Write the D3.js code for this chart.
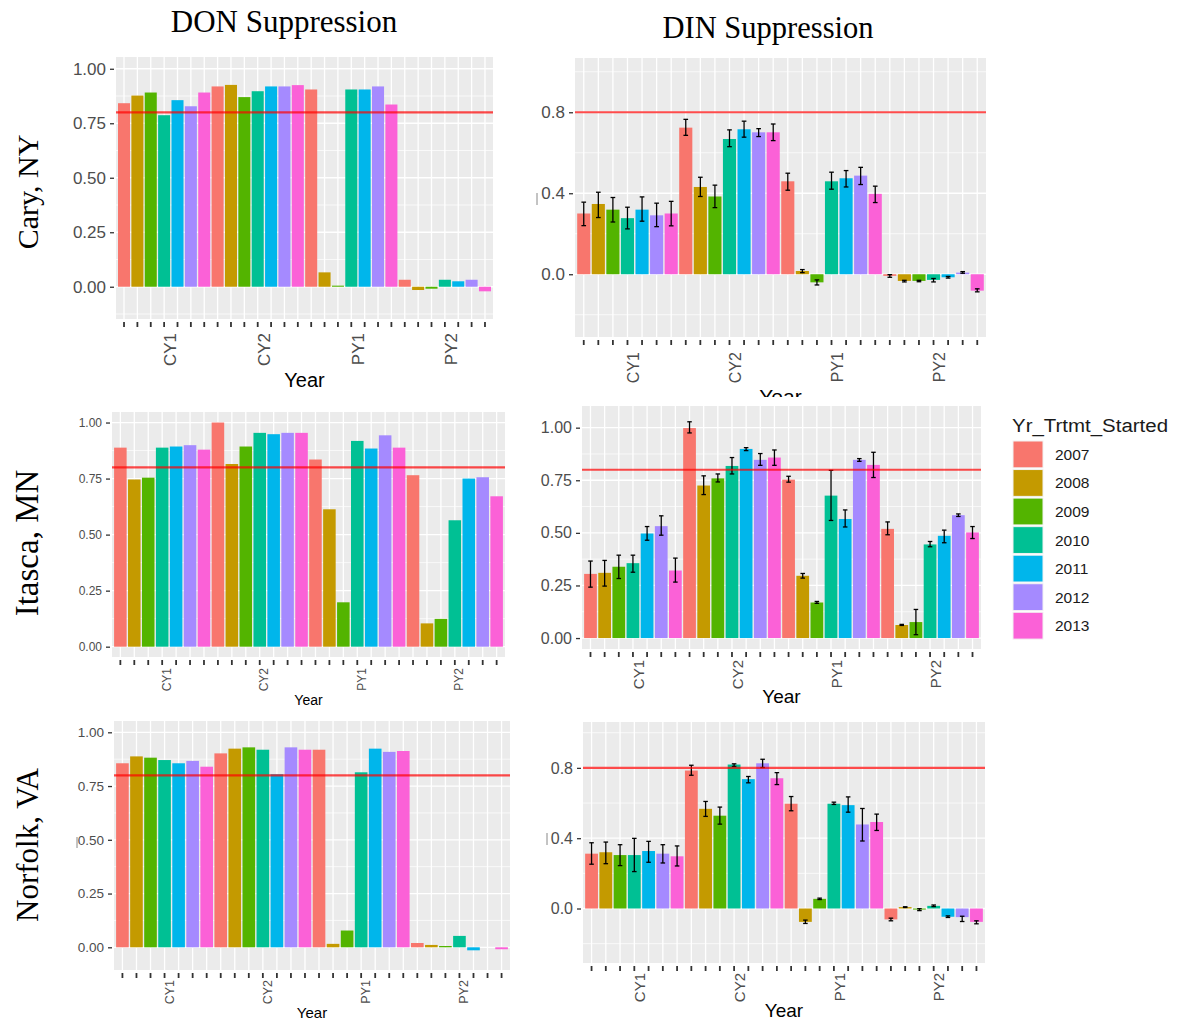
<!DOCTYPE html>
<html>
<head>
<meta charset="utf-8">
<script src="https://cdn.jsdelivr.net/npm/d3@7"></script>
<style>
  body { margin: 0; background: #fff; }
  svg { display: block; }
</style>
</head>
<body>
<div id="chart"></div>
<script>
// categories
const periods = ['CY1', 'CY2', 'PY1', 'PY2'];
const years = ['2007', '2008', '2009', '2010', '2011', '2012', '2013'];
const yearColors = ['#F8766D', '#C49A00', '#53B400', '#00C094', '#00B6EB', '#A58AFF', '#FB61D7'];
const threshold = 0.8;

// tick labels
const donTicks = [0, 0.25, 0.5, 0.75, 1];
const dinTicksCary = [0, 0.4, 0.8];
const dinTicksItasca = [0, 0.25, 0.5, 0.75, 1];
const dinTicksNorfolk = [0, 0.4, 0.8];

// values, ordered CY1 2007..2013, CY2 ..., PY1 ..., PY2 ...
const caryDon = [0.842, 0.877, 0.891, 0.787, 0.856, 0.828, 0.891,
                 0.919, 0.926, 0.870, 0.897, 0.919, 0.919, 0.925,
                 0.905, 0.066, 0.005, 0.905, 0.905, 0.919, 0.836,
                 0.032, -0.015, -0.009, 0.032, 0.025, 0.032, -0.021];
const caryDin = [0.300, 0.347, 0.319, 0.277, 0.319, 0.291, 0.300,
                 0.724, 0.431, 0.384, 0.668, 0.716, 0.701, 0.701,
                 0.459, 0.016, -0.040, 0.459, 0.474, 0.487, 0.397,
                 -0.008, -0.033, -0.033, -0.028, -0.015, 0.008, -0.081];
const caryDinLo = [0.240, 0.280, 0.258, 0.224, 0.262, 0.235, 0.239,
                   0.686, 0.384, 0.329, 0.630, 0.677, 0.680, 0.660,
                   0.415, 0.008, -0.053, 0.420, 0.431, 0.443, 0.354,
                   -0.015, -0.038, -0.037, -0.038, -0.019, 0.005, -0.087];
const caryDinHi = [0.356, 0.405, 0.379, 0.331, 0.382, 0.351, 0.360,
                   0.765, 0.479, 0.440, 0.713, 0.756, 0.719, 0.742,
                   0.499, 0.023, -0.028, 0.504, 0.512, 0.528, 0.435,
                   -0.002, -0.030, -0.030, -0.021, -0.011, 0.013, -0.072];

const itascaDon = [0.888, 0.746, 0.754, 0.888, 0.893, 0.899, 0.879,
                   1.000, 0.815, 0.893, 0.954, 0.948, 0.954, 0.954,
                   0.835, 0.613, 0.198, 0.918, 0.884, 0.943, 0.888,
                   0.765, 0.104, 0.124, 0.564, 0.750, 0.756, 0.671];
const itascaDin = [0.305, 0.310, 0.339, 0.356, 0.497, 0.532, 0.321,
                   0.998, 0.725, 0.759, 0.818, 0.899, 0.847, 0.858,
                   0.753, 0.296, 0.169, 0.677, 0.566, 0.847, 0.823,
                   0.519, 0.062, 0.076, 0.445, 0.486, 0.584, 0.502];
const itascaDinLo = [0.242, 0.247, 0.283, 0.313, 0.465, 0.489, 0.266,
                     0.975, 0.682, 0.742, 0.780, 0.891, 0.821, 0.821,
                     0.741, 0.285, 0.165, 0.559, 0.528, 0.840, 0.763,
                     0.491, 0.060, 0.016, 0.434, 0.453, 0.578, 0.473];
const itascaDinHi = [0.366, 0.369, 0.394, 0.394, 0.530, 0.581, 0.380,
                     1.028, 0.771, 0.780, 0.858, 0.905, 0.877, 0.894,
                     0.769, 0.307, 0.174, 0.797, 0.609, 0.853, 0.883,
                     0.552, 0.065, 0.136, 0.459, 0.513, 0.590, 0.530];

const norfolkDon = [0.856, 0.888, 0.882, 0.871, 0.856, 0.867, 0.840,
                    0.902, 0.924, 0.930, 0.919, 0.805, 0.930, 0.919,
                    0.919, 0.016, 0.078, 0.814, 0.924, 0.909, 0.913,
                    0.020, 0.011, 0.006, 0.053, -0.014, null, -0.009];
const norfolkDin = [0.312, 0.320, 0.304, 0.304, 0.327, 0.312, 0.297,
                    0.785, 0.567, 0.528, 0.819, 0.736, 0.826, 0.741,
                    0.596, -0.076, 0.055, 0.596, 0.588, 0.478, 0.492,
                    -0.062, 0.008, -0.006, 0.015, -0.047, -0.049, -0.076];
const norfolkDinLo = [0.252, 0.255, 0.244, 0.210, 0.263, 0.259, 0.242,
                      0.758, 0.524, 0.480, 0.808, 0.715, 0.802, 0.705,
                      0.556, -0.085, 0.051, 0.592, 0.548, 0.384, 0.444,
                      -0.070, 0.006, -0.012, 0.011, -0.051, -0.074, -0.087];
const norfolkDinHi = [0.374, 0.378, 0.363, 0.399, 0.382, 0.363, 0.356,
                      0.815, 0.609, 0.577, 0.823, 0.751, 0.849, 0.773,
                      0.637, -0.066, 0.059, 0.605, 0.635, 0.569, 0.537,
                      -0.055, 0.010, -0.001, 0.020, -0.042, -0.044, -0.070];

const categories = periods.flatMap(p => years.map(y => `${p}|${y}`));

// panel placement (pixels) + which arrays go where
const panels = [
  { vals: caryDon, ticks: donTicks, fmt: '.2f',
    box: [116, 493, 57, 319], dom: [-0.148, 1.054], yFont: 17, xFont: 17, xGap: 14, titleFont: 20, titleY: 387 },
  { vals: caryDin, lo: caryDinLo, hi: caryDinHi, ticks: dinTicksCary, fmt: '.1f',
    box: [575, 986, 58, 337], dom: [-0.31, 1.068], yFont: 17, xFont: 16, xGap: 15, titleFont: 21, titleY: 404, clipY: 397 },
  { vals: itascaDon, ticks: donTicks, fmt: '.2f',
    box: [112, 505, 412, 657], dom: [-0.046, 1.047], yFont: 12, xFont: 12, xGap: 11, titleFont: 14, titleY: 705 },
  { vals: itascaDin, lo: itascaDinLo, hi: itascaDinHi, ticks: dinTicksItasca, fmt: '.2f',
    box: [582, 981, 406, 649], dom: [-0.052, 1.103], yFont: 16, xFont: 15, xGap: 11, titleFont: 19, titleY: 703 },
  { vals: norfolkDon, ticks: donTicks, fmt: '.2f',
    box: [114, 510, 721, 970], dom: [-0.1056, 1.0526], yFont: 13.5, xFont: 12.5, xGap: 10, titleFont: 15, titleY: 1018 },
  { vals: norfolkDin, lo: norfolkDinLo, hi: norfolkDinHi, ticks: dinTicksNorfolk, fmt: '.1f',
    box: [583, 985, 722, 963], dom: [-0.31, 1.061], yFont: 16, xFont: 15, xGap: 10, titleFont: 19, titleY: 1017 }
];

const W = 1177, H = 1023;
const svg = d3.select('#chart').append('svg')
  .attr('width', W).attr('height', H)
  .style('font-family', '"Liberation Sans", Arial, sans-serif');
svg.append('rect').attr('width', W).attr('height', H).attr('fill', '#fff');

const defs = svg.append('defs');

panels.forEach((p, pi) => {
  const [x0, x1, y0, y1] = p.box;
  const g = svg.append('g');
  if (p.clipY) {
    defs.append('clipPath').attr('id', 'clip' + pi)
      .append('rect').attr('x', 0).attr('y', 0).attr('width', W).attr('height', p.clipY);
    g.attr('clip-path', `url(#clip${pi})`);
  }

  const x = d3.scaleBand().domain(categories).range([x0, x1])
    .paddingInner(0.1).paddingOuter(0.15);
  const y = d3.scaleLinear().domain(p.dom).range([y1, y0]);
  const step = x.step();

  // panel background + grid
  g.append('rect').attr('x', x0).attr('y', y0).attr('width', x1 - x0).attr('height', y1 - y0)
    .attr('fill', '#EBEBEB');
  const tstep = p.ticks[1] - p.ticks[0];
  const minor = d3.range(p.ticks[0] - tstep / 2, p.dom[1], tstep).filter(v => v > p.dom[0]);
  g.selectAll('.minor').data(minor).join('line')
    .attr('x1', x0).attr('x2', x1).attr('y1', d => y(d)).attr('y2', d => y(d))
    .attr('stroke', '#fff').attr('stroke-width', 0.7);
  g.selectAll('.major').data(p.ticks).join('line')
    .attr('x1', x0).attr('x2', x1).attr('y1', d => y(d)).attr('y2', d => y(d))
    .attr('stroke', '#fff').attr('stroke-width', 1.3);
  g.selectAll('.vgrid').data(categories).join('line')
    .attr('x1', d => x(d) + x.bandwidth() / 2).attr('x2', d => x(d) + x.bandwidth() / 2)
    .attr('y1', y0).attr('y2', y1)
    .attr('stroke', '#fff').attr('stroke-width', 1.3);

  // bars
  const rows = categories.map((c, i) => ({ c, i, v: p.vals[i] })).filter(d => d.v != null);
  g.selectAll('.bar').data(rows).join('rect')
    .attr('x', d => x(d.c)).attr('width', x.bandwidth())
    .attr('y', d => y(Math.max(0, d.v)))
    .attr('height', d => Math.abs(y(d.v) - y(0)))
    .attr('fill', d => yearColors[d.i % 7]);

  // error bars
  if (p.lo) {
    const cap = step * 0.16;
    const eb = g.selectAll('.eb').data(rows).join('g')
      .attr('stroke', '#000').attr('stroke-width', 1.3);
    const cx = d => x(d.c) + x.bandwidth() / 2;
    eb.append('line').attr('x1', cx).attr('x2', cx)
      .attr('y1', d => y(p.lo[d.i])).attr('y2', d => y(p.hi[d.i]));
    eb.append('line').attr('x1', d => cx(d) - cap).attr('x2', d => cx(d) + cap)
      .attr('y1', d => y(p.lo[d.i])).attr('y2', d => y(p.lo[d.i]));
    eb.append('line').attr('x1', d => cx(d) - cap).attr('x2', d => cx(d) + cap)
      .attr('y1', d => y(p.hi[d.i])).attr('y2', d => y(p.hi[d.i]));
  }

  // threshold line
  g.append('line').attr('x1', x0).attr('x2', x1)
    .attr('y1', y(threshold)).attr('y2', y(threshold))
    .attr('stroke', '#ff0000').attr('stroke-opacity', 0.7).attr('stroke-width', 2.2);

  // y axis
  const ya = g.append('g').attr('transform', `translate(${x0 - 2},0)`)
    .call(d3.axisLeft(y).tickValues(p.ticks).tickFormat(d3.format(p.fmt)).tickSize(4).tickPadding(4));
  ya.select('.domain').remove();
  ya.selectAll('line').attr('stroke', '#333').attr('stroke-width', 1.3);
  ya.selectAll('text').attr('fill', '#4D4D4D').style('font-size', p.yFont + 'px').attr('font-family', null);

  // x axis: tick per category, period name on the middle one
  const xa = g.append('g').attr('transform', `translate(0,${y1 + 3})`)
    .call(d3.axisBottom(x).tickSize(5)
      .tickFormat(d => { const [per, yr] = d.split('|'); return yr === '2010' ? per : ''; }));
  xa.select('.domain').remove();
  xa.selectAll('line').attr('stroke', '#333').attr('stroke-width', 1.8);
  xa.selectAll('text')
    .attr('transform', 'rotate(-90)')
    .attr('text-anchor', 'end')
    .attr('x', -(p.xGap - 3)).attr('y', 0).attr('dy', '0.72em')
    .attr('fill', '#4D4D4D').attr('font-family', null)
    .style('font-size', p.xFont + 'px');

  g.append('text').attr('x', (x0 + x1) / 2).attr('y', p.titleY)
    .attr('text-anchor', 'middle').style('font-size', p.titleFont + 'px')
    .attr('fill', '#000').text('Year');
});

// column titles
const serif = '"Liberation Serif", "Times New Roman", serif';
svg.append('text').attr('x', 284).attr('y', 32).attr('text-anchor', 'middle')
  .style('font-family', serif).style('font-size', '31px').text('DON Suppression');
svg.append('text').attr('x', 768).attr('y', 38).attr('text-anchor', 'middle')
  .style('font-family', serif).style('font-size', '30.5px').text('DIN Suppression');

// row labels
[['Cary, NY', 192, 30], ['Itasca, MN', 543, 33], ['Norfolk, VA', 845, 31]].forEach(([t, cy, fs]) => {
  svg.append('text').attr('transform', `translate(38,${cy}) rotate(-90)`)
    .attr('text-anchor', 'middle')
    .style('font-family', serif).style('font-size', fs + 'px').text(t);
});

// leftover marks of cropped y titles
[[537, 193, 205], [77, 837, 848], [547, 833, 845]].forEach(([lx, a, b]) => {
  svg.append('line').attr('x1', lx).attr('x2', lx).attr('y1', a).attr('y2', b)
    .attr('stroke', '#888').attr('stroke-width', 1);
});

// legend
const leg = svg.append('g');
leg.append('text').attr('x', 1012).attr('y', 432).style('font-size', '18px')
  .attr('textLength', 156).attr('lengthAdjust', 'spacingAndGlyphs')
  .attr('fill', '#1a1a1a').text('Yr_Trtmt_Started');
const ly = d3.scaleBand().domain(years).range([441, 441 + 28.3 * 7]).paddingInner(0.06);
leg.selectAll('.key').data(years).join('rect')
  .attr('x', 1013).attr('y', d => ly(d)).attr('width', 30).attr('height', ly.bandwidth())
  .attr('fill', (d, i) => yearColors[i]).attr('stroke', '#f2f2f2').attr('stroke-width', 1);
leg.selectAll('.lab').data(years).join('text')
  .attr('x', 1055).attr('y', d => ly(d) + ly.bandwidth() / 2 + 5.5)
  .style('font-size', '15.5px').attr('fill', '#1a1a1a').text(d => d);
</script>
</body>
</html>
